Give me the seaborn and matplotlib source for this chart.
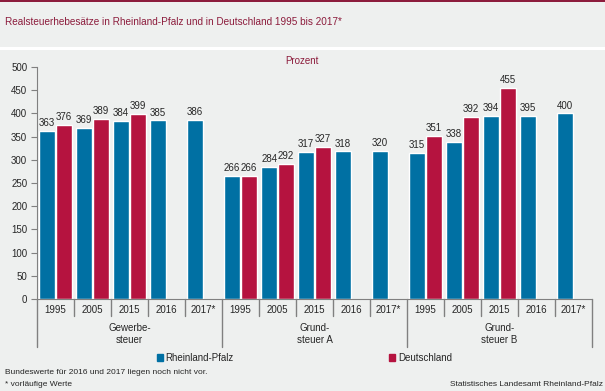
import numpy as np
import pandas as pd
import seaborn as sns
import matplotlib.pyplot as plt
import matplotlib.transforms as mtransforms
from matplotlib.patches import Rectangle, Patch

# data
taxes = ["Gewerbe-\nsteuer", "Grund-\nsteuer A", "Grund-\nsteuer B"]
years = ["1995", "2005", "2015", "2016", "2017*"]
rlp_values = [[363, 369, 384, 385, 386],
              [266, 284, 317, 318, 320],
              [315, 338, 394, 395, 400]]
de_values = [[376, 389, 399, None, None],
             [266, 292, 327, None, None],
             [351, 392, 455, None, None]]
regions = ["Rheinland-Pfalz", "Deutschland"]

bg = "#eef0ef"
blue = "#0070a3"
red = "#b5133f"
darkred = "#8c1c3c"

rows = []
slots = []
for t, tax in enumerate(taxes):
    for y, year in enumerate(years):
        slot = f"{t}-{year}"
        slots.append(slot)
        rows.append({"slot": slot, "region": regions[0], "value": rlp_values[t][y]})
        if de_values[t][y] is not None:
            rows.append({"slot": slot, "region": regions[1], "value": de_values[t][y]})
df = pd.DataFrame(rows)

sns.set_style("ticks")
plt.rcParams["font.family"] = ["Liberation Sans", "DejaVu Sans"]

fig = plt.figure(figsize=(6.05, 3.91), dpi=100, facecolor=bg)
# top border and white strip
fig.add_artist(Rectangle((0, 1 - 2 / 391), 1, 2 / 391, transform=fig.transFigure,
                         color=darkred, lw=0))
fig.add_artist(Rectangle((0, 1 - 50 / 391), 1, 3 / 391, transform=fig.transFigure,
                         color="white", lw=0))

ax = fig.add_axes([37 / 605, 92 / 391, 555 / 605, 232 / 391])
ax.set_facecolor(bg)

sns.barplot(data=df, x="slot", y="value", hue="region", order=slots,
            hue_order=regions, palette=[blue, red], width=0.9, gap=0.05,
            errorbar=None, ax=ax, legend=False, saturation=1)

for c in ax.containers:
    ax.bar_label(c, fmt="%d", padding=2, fontsize=7)

ax.set_xlim(-0.5, len(slots) - 0.5)
ax.set_ylim(0, 500)
ax.set_yticks(range(0, 501, 50))
ax.tick_params(axis="y", labelsize=7, length=4, color="#808080", pad=3)
ax.set_xticks(range(len(slots)))
ax.set_xticklabels(years * len(taxes), fontsize=7)
ax.tick_params(axis="x", length=0, pad=4)
ax.set_xlabel("")
ax.set_ylabel("")
for s in ["top", "right"]:
    ax.spines[s].set_visible(False)
for s in ["left", "bottom"]:
    ax.spines[s].set_color("#808080")

trans = mtransforms.blended_transform_factory(ax.transData, ax.transAxes)
for k in range(len(slots) + 1):
    xb = k - 0.5
    low = -0.207 if k % len(years) == 0 else -0.073
    ax.plot([xb, xb], [0, low], transform=trans, color="#808080", lw=1,
            clip_on=False)
for t, tax in enumerate(taxes):
    ax.text(t * len(years) + 2, -0.15, tax, transform=trans, ha="center",
            va="center", fontsize=7, linespacing=1.25)

fig.text(5 / 605, 1 - 22 / 391,
         "Realsteuerhebesätze in Rheinland-Pfalz und in Deutschland 1995 bis 2017*",
         color=darkred, fontsize=7.2, va="center", ha="left")
fig.text(302 / 605, 1 - 61 / 391, "Prozent", color=darkred, fontsize=7,
         ha="center", va="center")

handles = [Patch(color=blue, label=regions[0]), Patch(color=red, label=regions[1])]
fig.legend(handles=handles, loc="center left", bbox_to_anchor=(148 / 605, 1 - 358 / 391),
           ncol=2, frameon=False, fontsize=7, handlelength=0.6, handleheight=0.6,
           handletextpad=0.3, columnspacing=16)

fig.text(5 / 605, 1 - 373 / 391, "Bundeswerte für 2016 und 2017 liegen noch nicht vor.",
         fontsize=6, va="center")
fig.text(5 / 605, 1 - 384 / 391, "* vorläufige Werte", fontsize=6, va="center")
fig.text(603 / 605, 1 - 384 / 391, "Statistisches Landesamt Rheinland-Pfalz",
         fontsize=6, va="center", ha="right")

fig.savefig("out.png", dpi=100, facecolor=bg)
